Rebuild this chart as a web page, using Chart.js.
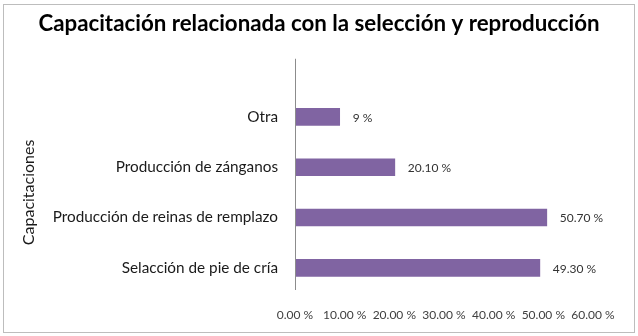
<!DOCTYPE html>
<html>
<head>
<meta charset="utf-8">
<script src="https://cdn.jsdelivr.net/npm/chart.js@4"></script>
<style>
  body { margin: 0; background: #fff; }
  #frame { position: absolute; left: 3px; top: 4px; width: 630px; height: 327px; border: 1px solid #bdbdbd; }
  #wrap { position: absolute; left: 0; top: 0; width: 638px; height: 336px; }
</style>
</head>
<body>
<div id="frame"></div>
<div id="wrap"><canvas id="my-chart" width="638" height="336"></canvas></div>
<script>
const categories = ["Otra", "Producción de zánganos", "Producción de reinas de remplazo", "Selacción de pie de cría"];
const values = [9, 20.1, 50.7, 49.3];
const valueLabels = ["9 %", "20.10 %", "50.70 %", "49.30 %"];
const xTicks = [0, 10, 20, 30, 40, 50, 60];

const FONT = "Lato, 'Open Sans', sans-serif";

// draws the value next to each bar
const barLabels = {
  id: "barLabels",
  afterDatasetsDraw(chart) {
    const ctx = chart.ctx;
    const meta = chart.getDatasetMeta(0);
    ctx.save();
    ctx.font = "12px " + FONT;
    ctx.fillStyle = "#333333";
    ctx.textBaseline = "middle";
    meta.data.forEach((bar, i) => {
      ctx.fillText(valueLabels[i], bar.x + 13, bar.y + 1);
    });
    ctx.restore();
  }
};

// vertical axis line, a bit taller than the category area like the original
const axisLine = {
  id: "axisLine",
  afterDraw(chart) {
    const { ctx, chartArea } = chart;
    const x = Math.round(chart.scales.x.getPixelForValue(0)) + 0.5;
    ctx.save();
    ctx.strokeStyle = "#8c8c8c";
    ctx.lineWidth = 1;
    ctx.beginPath();
    ctx.moveTo(x, chartArea.top - 33);
    ctx.lineTo(x, chartArea.bottom - 3);
    ctx.stroke();
    ctx.restore();
  }
};

// keep the title centred on the whole canvas, not just the padded area
const centreTitle = {
  id: "centreTitle",
  afterLayout(chart) {
    const t = chart.titleBlock;
    if (!t) return;
    t.left = 0;
    t.right = chart.width;
    t.width = chart.width;
  }
};

new Chart(document.getElementById("my-chart"), {
  type: "bar",
  data: {
    labels: categories,
    datasets: [{
      data: values,
      backgroundColor: "#8064A2",
      borderWidth: 0,
      barThickness: 17
    }]
  },
  plugins: [barLabels, axisLine, centreTitle],
  options: {
    indexAxis: "y",
    responsive: false,
    animation: false,
    layout: { padding: { left: 0, right: 45, top: 0, bottom: 0 } },
    plugins: {
      legend: { display: false },
      tooltip: { enabled: false },
      title: {
        display: true,
        text: "Capacitación relacionada con la selección y reproducción",
        color: "#000000",
        font: { family: FONT, size: 22.3, weight: "bold", lineHeight: 1.2 },
        padding: { top: 10, bottom: 55 }
      }
    },
    scales: {
      x: {
        min: 0,
        max: 60,
        grid: { display: false, drawTicks: false },
        border: { display: false },
        afterFit(scale) { scale.height = 43; },
        afterBuildTicks(scale) { scale.ticks = xTicks.map(v => ({ value: v })); },
        ticks: {
          padding: 15,
          color: "#404040",
          font: { family: FONT, size: 12 },
          maxRotation: 0,
          callback: v => v.toFixed(2) + " %"
        }
      },
      y: {
        grid: { display: false, drawTicks: false },
        border: { display: false },
        afterFit(scale) { scale.width = 295; },
        ticks: {
          padding: 17,
          color: "#1a1a1a",
          font: { family: FONT, size: 15.3 }
        },
        title: {
          display: true,
          text: "Capacitaciones",
          color: "#1a1a1a",
          font: { family: FONT, size: 16 },
          padding: { top: 19, bottom: 0 }
        }
      }
    }
  }
});
</script>
</body>
</html>
